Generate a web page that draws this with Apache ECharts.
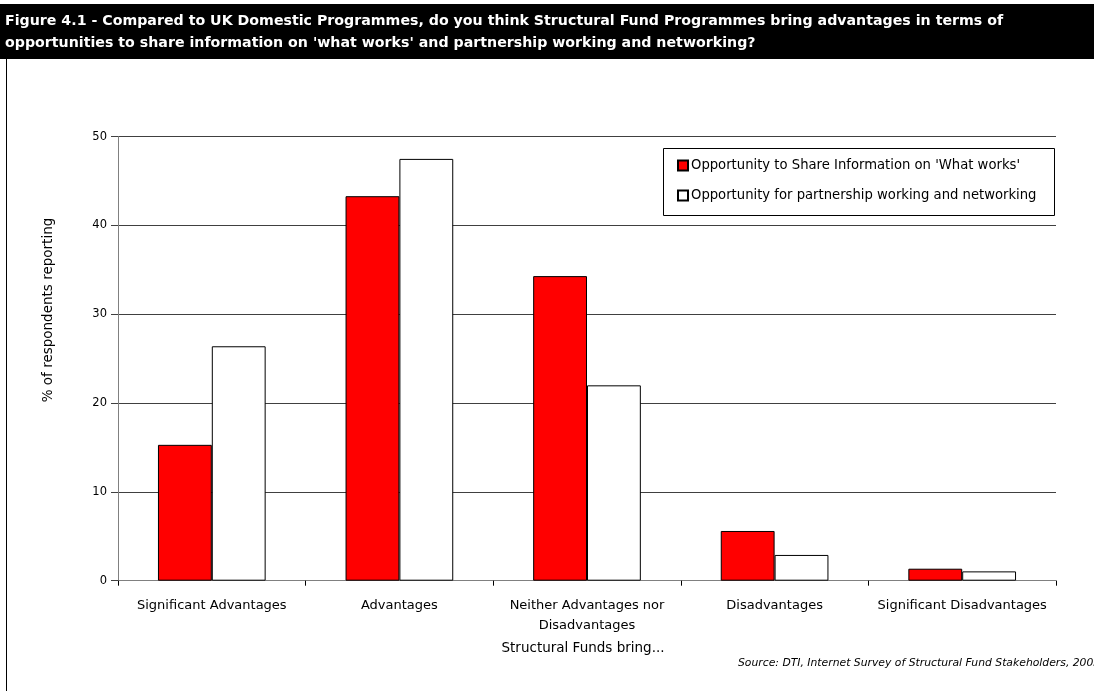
<!DOCTYPE html>
<html>
<head>
<meta charset="utf-8">
<script src="https://cdn.jsdelivr.net/npm/echarts@6/dist/echarts.min.js"></script>
<style>
  html, body { margin: 0; padding: 0; background: #fff; }
  #chart { width: 1094px; height: 691px; }
</style>
</head>
<body>
<div id="chart"></div>
<script>
// Survey responses, % of respondents
const categories = [
  'Significant Advantages',
  'Advantages',
  'Neither Advantages nor\nDisadvantages',
  'Disadvantages',
  'Significant Disadvantages'
];
const shareInfoLabel = "Opportunity to Share Information on 'What works'";
const partnershipLabel = 'Opportunity for partnership working and networking';
const shareInfoValues = [15.3, 43.3, 34.3, 5.6, 1.35];
const partnershipValues = [26.4, 47.5, 22.0, 2.9, 1.05];
const yTicks = { min: 0, max: 50, interval: 10 };

const titleLines = [
  'Figure 4.1 - Compared to UK Domestic Programmes, do you think Structural Fund Programmes bring advantages in terms of',
  "opportunities to share information on 'what works' and partnership working and networking?"
];
const yAxisName = '% of respondents reporting';
const xAxisName = 'Structural Funds bring...';
const sourceNote = 'Source: DTI, Internet Survey of Structural Fund Stakeholders, 2003';

const FONT = '"DejaVu Sans", sans-serif';

const chart = echarts.init(document.getElementById('chart'), null, { renderer: 'canvas' });

chart.setOption({
  animation: false,
  backgroundColor: '#fff',
  textStyle: { fontFamily: FONT },
  grid: { left: 118, right: 38, top: 136.7, bottom: 110.3, containLabel: false },
  legend: {
    orient: 'vertical',
    left: 677,
    top: 159,
    itemWidth: 10,
    itemHeight: 10,
    itemGap: 17,
    icon: 'rect',
    padding: 0,
    textStyle: { fontFamily: FONT, fontSize: 13.2, color: '#000', padding: [0, 0, 0, -2] },
    data: [shareInfoLabel, partnershipLabel]
  },
  xAxis: {
    type: 'category',
    data: categories,
    boundaryGap: true,
    axisLine: { show: true, lineStyle: { color: '#808080', width: 1 } },
    axisTick: { show: true, alignWithLabel: false, length: 5, lineStyle: { color: '#000' } },
    axisLabel: {
      color: '#000', fontFamily: FONT, fontSize: 13, margin: 15,
      lineHeight: 20, interval: 0
    },
    splitLine: { show: false }
  },
  yAxis: {
    type: 'value',
    min: yTicks.min,
    max: yTicks.max,
    interval: yTicks.interval,
    axisLine: { show: true, lineStyle: { color: '#808080', width: 1 } },
    axisTick: { show: true, length: 7, lineStyle: { color: '#404040' } },
    axisLabel: { color: '#000', fontFamily: FONT, fontSize: 11.5, margin: 11 },
    splitLine: { show: true, lineStyle: { color: '#404040', width: 1 } }
  },
  series: [
    {
      name: shareInfoLabel,
      type: 'bar',
      data: shareInfoValues,
      barGap: '0%',
      barCategoryGap: '42.6%',
      itemStyle: { color: '#ff0000', borderColor: '#000', borderWidth: 1 }
    },
    {
      name: partnershipLabel,
      type: 'bar',
      data: partnershipValues,
      barGap: '0%',
      barCategoryGap: '42.6%',
      itemStyle: { color: '#ffffff', borderColor: '#000', borderWidth: 1 }
    }
  ],
  graphic: [
    // header band
    { type: 'rect', left: 0, top: 4, shape: { width: 1094, height: 55 }, style: { fill: '#000' }, silent: true },
    { type: 'text', left: 5, top: 14, style: { text: titleLines[0], fill: '#fff', font: 'bold 14.2px ' + FONT } },
    { type: 'text', left: 5, top: 36, style: { text: titleLines[1], fill: '#fff', font: 'bold 14.2px ' + FONT } },
    // left frame rule
    { type: 'line', shape: { x1: 6.5, y1: 59, x2: 6.5, y2: 691 }, style: { stroke: '#000', lineWidth: 1 }, silent: true },
    // legend frame
    { type: 'rect', shape: { x: 663.5, y: 148.5, width: 391, height: 67 }, style: { fill: 'none', stroke: '#000', lineWidth: 1 }, silent: true, z: 0 },
    // axis titles
    { type: 'text', x: 48, y: 310, rotation: Math.PI / 2,
      style: { text: yAxisName, fill: '#000', font: '13.5px ' + FONT, align: 'center', verticalAlign: 'middle' } },
    { type: 'text', x: 583, y: 648,
      style: { text: xAxisName, fill: '#000', font: '13.5px ' + FONT, align: 'center', verticalAlign: 'middle' } },
    { type: 'text', x: 738, y: 663,
      style: { text: sourceNote, fill: '#000', font: 'italic 10.8px ' + FONT, align: 'left', verticalAlign: 'middle' } }
  ]
});
</script>
</body>
</html>
